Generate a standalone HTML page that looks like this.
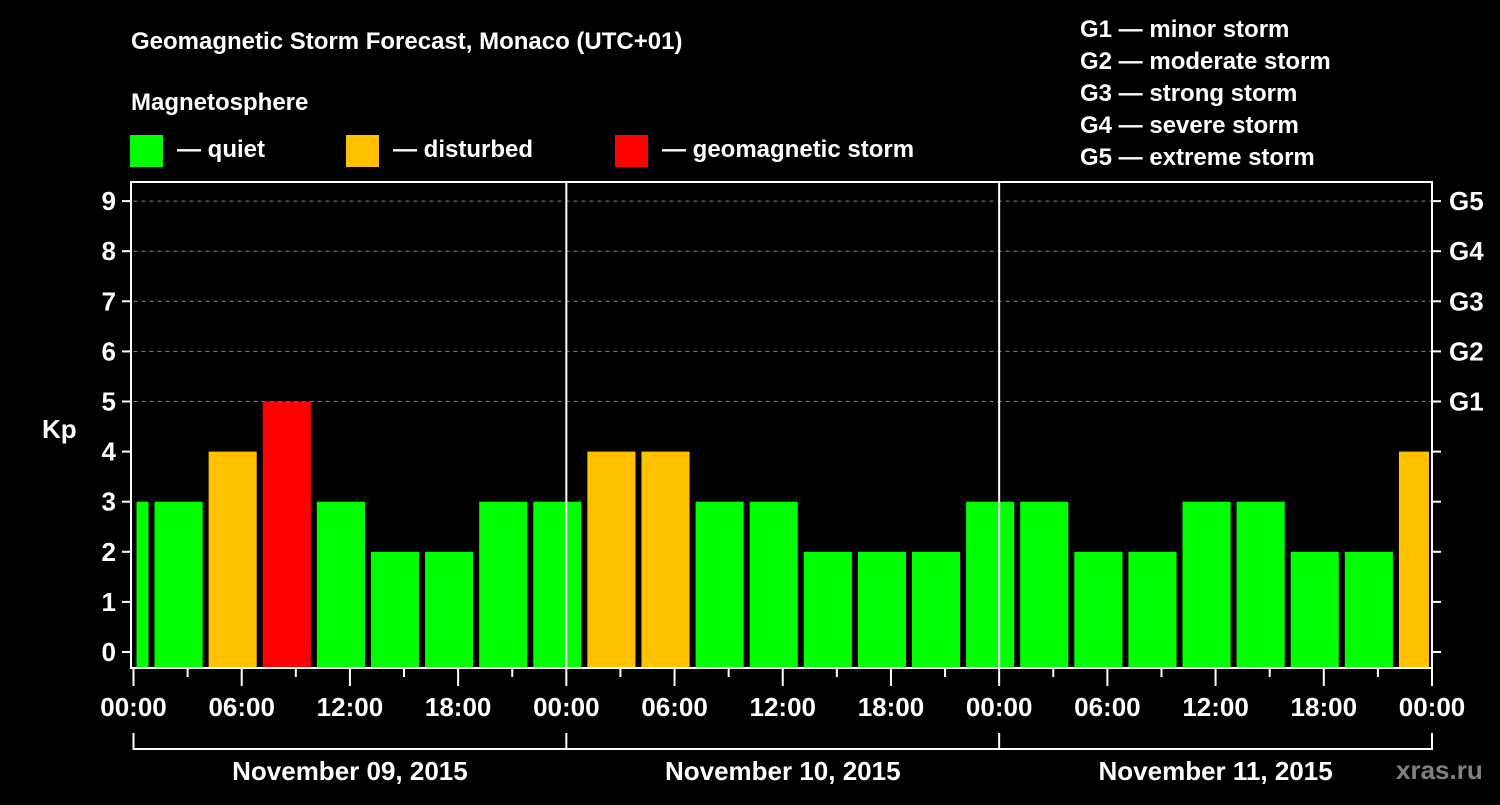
<!DOCTYPE html>
<html><head><meta charset="utf-8"><style>
html,body{margin:0;padding:0;background:#000;}
svg text{font-family:"Liberation Sans",Arial,sans-serif;font-weight:bold;fill:#fff;}
</style></head><body>
<svg id="chart" width="1500" height="800" viewBox="0 0 1500 800" xmlns="http://www.w3.org/2000/svg">
<rect width="1500" height="800" fill="#000"/>
<text x="131" y="49" font-size="24">Geomagnetic Storm Forecast, Monaco (UTC+01)</text>
<text x="131" y="110" font-size="24">Magnetosphere</text>
<g><rect x="130" y="135" width="33" height="32" fill="#00ff00"/><text x="177" y="157" font-size="24">— quiet</text></g>
<g><rect x="346" y="135" width="33" height="32" fill="#ffc000"/><text x="393" y="157" font-size="24">— disturbed</text></g>
<g><rect x="615" y="135" width="33" height="32" fill="#ff0000"/><text x="662" y="157" font-size="24">— geomagnetic storm</text></g>
<g font-size="24">
<text x="1080" y="37">G1 — minor storm</text>
<text x="1080" y="69">G2 — moderate storm</text>
<text x="1080" y="101">G3 — strong storm</text>
<text x="1080" y="133">G4 — severe storm</text>
<text x="1080" y="165">G5 — extreme storm</text>
</g>
<g id="grid"></g>
<g id="bars"></g>
<g id="axes"></g>
<text x="42" y="438" font-size="26">Kp</text>
<text x="1396" y="779" font-size="26" style="fill:#808080">xras.ru</text>
</svg>
<script>
const kpValues=[3,3,4,5,3,2,2,3,3,4,4,3,3,2,2,2,3,3,2,2,3,3,2,2,4];
const yTicks=[0,1,2,3,4,5,6,7,8,9];
const gLabels=["G1","G2","G3","G4","G5"];
const gLevels=[5,6,7,8,9];
const xTickLabels=["00:00","06:00","12:00","18:00","00:00","06:00","12:00","18:00","00:00","06:00","12:00","18:00","00:00"];
const dayLabels=["November 09, 2015","November 10, 2015","November 11, 2015"];
const firstBarStartHour=-2, barHours=3, totalHours=72;

const NS="http://www.w3.org/2000/svg";
const X0=133.5,X1=1432,YTOP=182,YBOT=668;
const xs=h=>X0+(X1-X0)*h/totalHours;
const ys=v=>652-v*50.1;
function el(tag,attrs,parent){const e=document.createElementNS(NS,tag);for(const k in attrs)e.setAttribute(k,attrs[k]);parent.appendChild(e);return e;}
const grid=document.getElementById('grid'),bars=document.getElementById('bars'),axes=document.getElementById('axes');
function color(v){return v>=5?"#ff0000":v===4?"#ffc000":"#00ff00";}

gLevels.forEach(v=>{
  const l=el('line',{x1:X0,x2:X1,y1:ys(v),y2:ys(v),stroke:'#888','stroke-dasharray':'4,4','stroke-width':1},grid);
  
  
});
kpValues.forEach((v,i)=>{
  let h0=firstBarStartHour+i*barHours,h1=h0+barHours;
  let a=Math.max(xs(h0),X0)+3,b=Math.min(xs(h1),X1)-3;
  const r=el('rect',{x:a,y:ys(v),width:b-a,height:YBOT-ys(v),fill:color(v)},bars);
  
  
});
[1,2].forEach(d=>{
  const l=el('line',{x1:xs(d*24),x2:xs(d*24),y1:YTOP,y2:YBOT,stroke:'#fff','stroke-width':2},axes);
  
  
});
const frame=el('rect',{x:131,y:YTOP,width:X1-131,height:YBOT-YTOP,fill:'none',stroke:'#fff','stroke-width':2},axes);


yTicks.forEach(v=>{
  el('line',{x1:122,x2:131,y1:ys(v),y2:ys(v),stroke:'#fff','stroke-width':2},axes);
  el('line',{x1:X1,x2:X1+9,y1:ys(v),y2:ys(v),stroke:'#fff','stroke-width':2},axes);
  const t=el('text',{x:116,y:ys(v)+9,'font-size':26,'text-anchor':'end'},axes);
  t.textContent=v;
  
  
});
gLabels.forEach((g,i)=>{
  const t=el('text',{x:1449,y:ys(gLevels[i])+9,'font-size':26},axes);
  t.textContent=g;
  
  
});
for(let h=0;h<=totalHours;h+=3){
  const major=h%6===0;
  el('line',{x1:xs(h),x2:xs(h),y1:YBOT,y2:major?686:677,stroke:'#fff','stroke-width':2},axes);
}
xTickLabels.forEach((s,i)=>{
  const t=el('text',{x:xs(i*6),y:716,'font-size':26,'text-anchor':'middle'},axes);
  t.textContent=s;
  
  
});
el('line',{x1:xs(0),x2:xs(72),y1:749,y2:749,stroke:'#fff','stroke-width':2},axes);
for(let d=0;d<=3;d++) el('line',{x1:xs(d*24),x2:xs(d*24),y1:733,y2:750,stroke:'#fff','stroke-width':2},axes);
dayLabels.forEach((s,i)=>{
  const t=el('text',{x:xs(i*24+12),y:780,'font-size':26,'text-anchor':'middle'},axes);
  t.textContent=s;
  
  
});
</script>
</body></html>
